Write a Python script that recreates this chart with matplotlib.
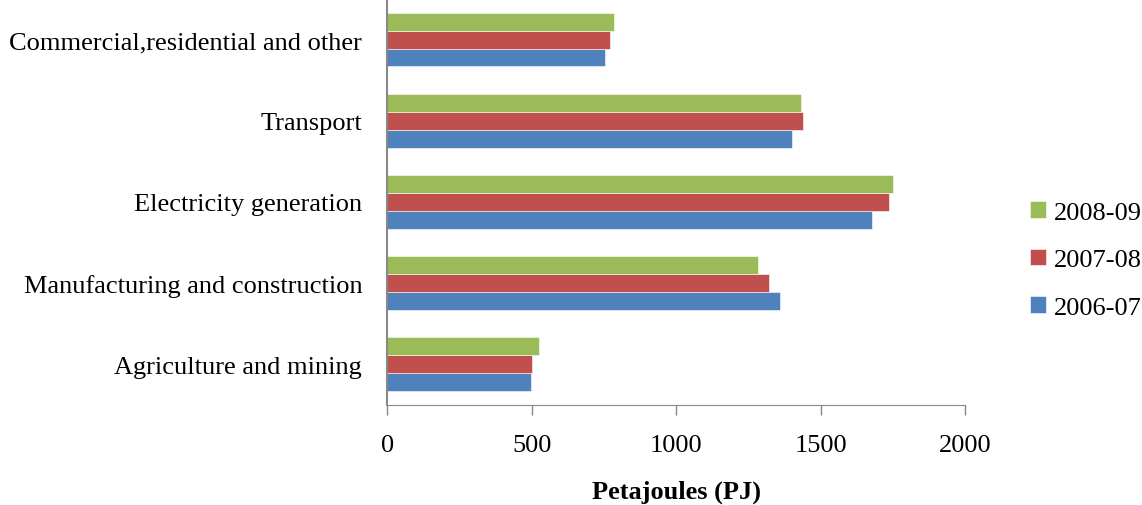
import numpy as np
import matplotlib.pyplot as plt

categories = ["Agriculture and mining", "Manufacturing and construction",
              "Electricity generation", "Transport",
              "Commercial,residential and other"]
years = ["2006-07", "2007-08", "2008-09"]
v_2006_07 = [499, 1361, 1678, 1401, 755]
v_2007_08 = [503, 1320, 1736, 1438, 773]
v_2008_09 = [527, 1285, 1750, 1431, 786]
colors = ["#4F81BD", "#C0504D", "#9BBB59"]

plt.rcParams['font.family'] = ['Liberation Serif', 'DejaVu Serif']

fig = plt.figure(figsize=(11.42, 5.06), dpi=100)
ax = fig.add_axes([0.339, 0.198, 0.506, 0.802])

y = np.arange(len(categories))
h = 0.22
series = [v_2006_07, v_2007_08, v_2008_09]
handles = []
for i, (vals, c, lab) in enumerate(zip(series, colors, years)):
    b = ax.barh(y + (i - 1) * h, vals, height=h, color=c, label=lab,
                edgecolor='white', linewidth=0.4)
    handles.append(b)

ax.set_ylim(-0.5, len(categories) - 0.5)
ax.set_xlim(0, 2000)
ax.set_xticks([0, 500, 1000, 1500, 2000])
ax.set_yticks(y)
ax.set_yticklabels(categories, fontsize=19)
ax.tick_params(axis='y', length=0, pad=18)
ax.tick_params(axis='x', length=7, width=1, color='#888888', labelsize=19, pad=14)

for s in ['top', 'right']:
    ax.spines[s].set_visible(False)
ax.spines['left'].set_color('#888888')
ax.spines['bottom'].set_color('#888888')
ax.spines['left'].set_linewidth(1.5)

ax.set_xlabel("Petajoules (PJ)", fontsize=19, fontweight='bold')
ax.xaxis.set_label_coords(0.5, -0.185)

ax.legend(handles[::-1], years[::-1], loc='center left',
          bbox_to_anchor=(1030 / 1142, 1 - 261 / 506), bbox_transform=fig.transFigure,
          borderpad=0, borderaxespad=0,
          frameon=False, fontsize=19, handlelength=0.6, handleheight=0.6,
          handletextpad=0.3, labelspacing=0.95)

fig.savefig("out.png", dpi=100)
